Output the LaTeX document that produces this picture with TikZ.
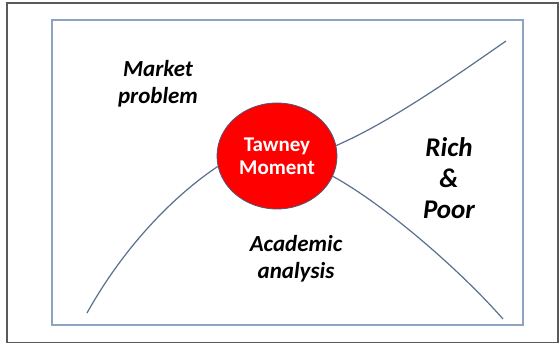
\documentclass[tikz,border=0pt]{standalone}
\usepackage{fontspec}
\setmainfont{Carlito}
\usetikzlibrary{shapes.geometric}
\definecolor{framegray}{HTML}{5A5A5A}
\definecolor{boxblue}{HTML}{8EA3C4}
\definecolor{curveblue}{HTML}{5B6F90}
\definecolor{tred}{HTML}{FF0000}
\definecolor{tborder}{HTML}{4A5A7A}
\tikzset{
  lbl/.style={font=\fontsize{23}{27}\selectfont\bfseries\itshape, align=center, text=black, inner sep=0pt},
  biglbl/.style={font=\fontsize{27}{31}\selectfont\bfseries\itshape, align=center, text=black, inner sep=0pt},
  curve/.style={draw=curveblue, line width=1.2pt},
  moment/.style={ellipse, fill=tred, draw=tborder, line width=0.8pt, minimum width=120pt, minimum height=106pt, inner sep=0pt, text=white, align=center, font=\fontsize{21}{23}\selectfont\bfseries}
}
\begin{document}
\begin{tikzpicture}[x=1pt,y=-1pt]
\useasboundingbox (0,0) rectangle (560,344);
\fill[white] (0,0) rectangle (560,344);
\draw[framegray, line width=1.3pt] (7,3) rectangle (558,342.5);
\draw[boxblue, line width=1.5pt] (52,20) rectangle (523,325);
\node[moment] (tm) at (277,156) {Tawney\\Moment};
\coordinate (ll) at (87,313);
\coordinate (ur) at (506,41);
\coordinate (lr) at (503,319);
\draw[curve] (ll) .. controls (125,245) and (175,195) .. (tm.190);
\draw[curve] (tm.10) .. controls (390,122) and (450,80) .. (ur);
\draw[curve] (tm.340) .. controls (385,205) and (460,270) .. (lr);
\node[lbl] (mp) at (158,84) {Market\\problem};
\node[lbl] (aa) at (296,259) {Academic\\analysis};
\node[biglbl] (rp) at (449,178) {Rich\\\&\\Poor};
\end{tikzpicture}
\end{document}
